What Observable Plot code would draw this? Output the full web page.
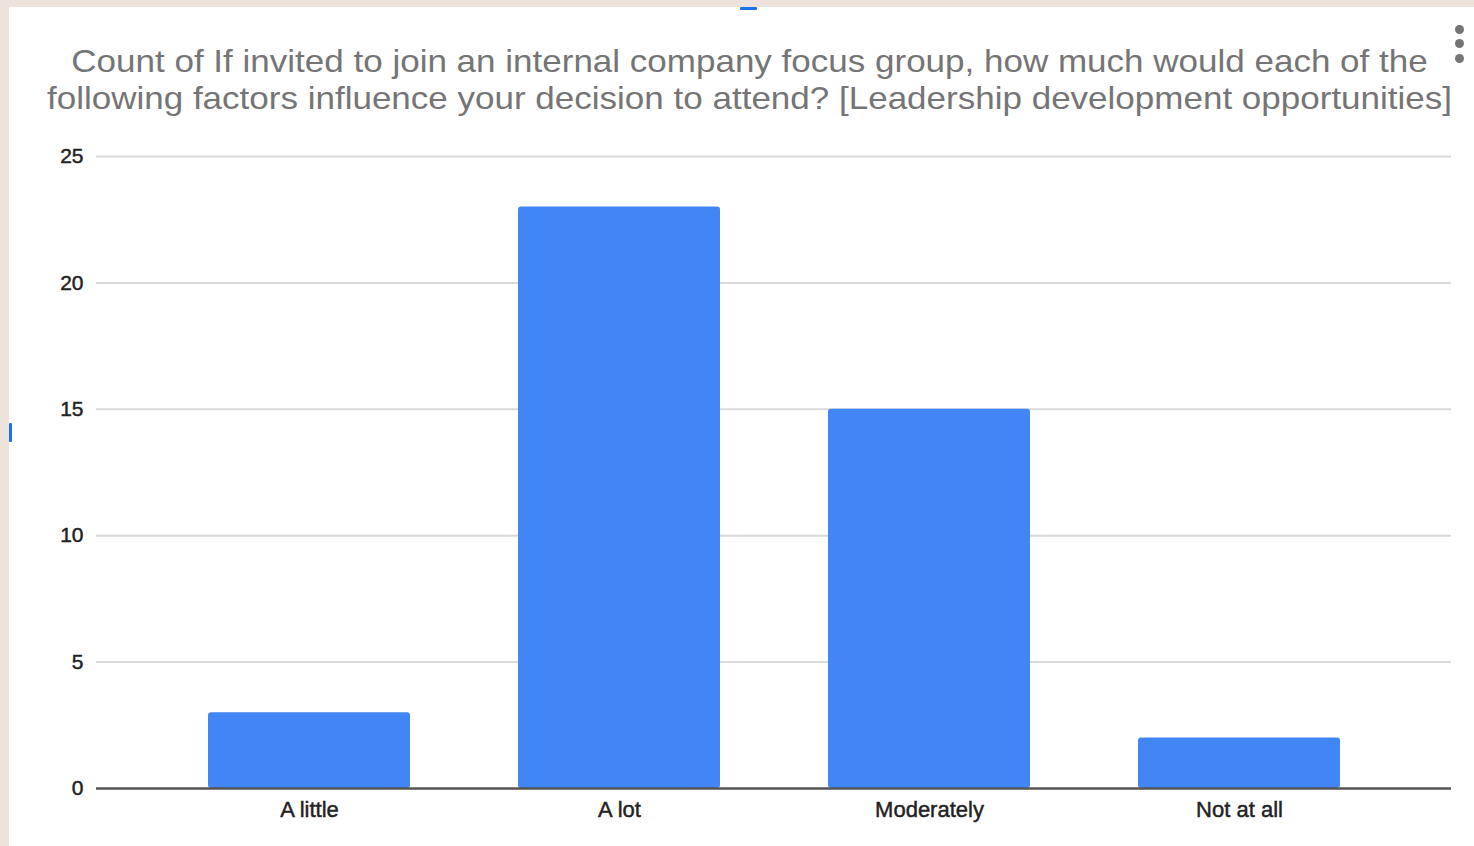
<!DOCTYPE html>
<html>
<head>
<meta charset="utf-8">
<script src="https://cdn.jsdelivr.net/npm/d3@7"></script>
<script src="https://cdn.jsdelivr.net/npm/@observablehq/plot@0.6"></script>
<style>
  html, body { margin: 0; padding: 0; }
  body { width: 1474px; height: 846px; background: #ede3dc; position: relative; overflow: hidden; font-family: "Liberation Sans", Arial, sans-serif; }
  #panel { position: absolute; left: 9px; top: 7px; right: 0; bottom: 0; background: #ffffff; }
  .tline { position: absolute; left: 0; width: 1499px; height: 37px; text-align: center; color: #757575; font-size: 32px; line-height: 37px; white-space: nowrap; transform: scaleX(1.094); transform-origin: 749.5px 50%; }
  #chart { position: absolute; left: 0; top: 130px; }
  #chart [aria-label="x-axis tick label"], #chart [aria-label="y-axis tick label"] { stroke: #222222; stroke-width: 0.45px; }
  .dot { position: absolute; width: 9px; height: 9px; border-radius: 50%; background: #757575; left: 1455px; }
  .handle { position: absolute; background: #1a73e8; border-radius: 1px; }
</style>
</head>
<body>
<div id="panel"></div>
<div class="handle" style="left:740px;top:7px;width:17px;height:3px;"></div>
<div class="handle" style="left:9px;top:423px;width:3px;height:19px;"></div>
<div class="dot" style="top:25px"></div>
<div class="dot" style="top:39px"></div>
<div class="dot" style="top:54px"></div>
<div id="title"></div>
<div id="chart"></div>
<script>
const titleLines = [
  "Count of If invited to join an internal company focus group, how much would each of the",
  "following factors influence your decision to attend? [Leadership development opportunities]"
];
const categories = ["A little", "A lot", "Moderately", "Not at all"];
const counts = [3, 23, 15, 2];
const yTicks = [0, 5, 10, 15, 20, 25];

const titleBox = document.getElementById("title");
titleLines.forEach((t, i) => {
  const d = document.createElement("div");
  d.className = "tline";
  d.style.top = (43 + i * 37) + "px";
  d.textContent = t;
  titleBox.appendChild(d);
});

const data = categories.map((c, i) => ({category: c, count: counts[i]}));

const chart = Plot.plot({
  width: 1474,
  height: 716,
  marginLeft: 96,
  marginRight: 23,
  marginTop: 26,
  marginBottom: 58,
  style: {fontFamily: "'Liberation Sans', Arial, sans-serif", background: "transparent"},
  x: {domain: categories, paddingInner: 0.35, paddingOuter: 0.356, label: null},
  y: {domain: [0, 25], label: null},
  marks: [
    Plot.ruleY(yTicks.filter(d => d > 0), {stroke: "#d9d9d9", strokeWidth: 2}),
    Plot.barY(data, {x: "category", y: "count", fill: "#4285f4", rx: 3}),
    Plot.ruleY([0], {stroke: "#555555", strokeWidth: 2.5}),
    Plot.axisY({ticks: yTicks, tickSize: 0, tickPadding: 13, fontSize: 21, fill: "#222222", label: null, tickFormat: d => String(d)}),
    Plot.axisX({tickSize: 0, tickPadding: 13, fontSize: 22, fill: "#222222", label: null})
  ]
});
document.getElementById("chart").appendChild(chart);
</script>
</body>
</html>
